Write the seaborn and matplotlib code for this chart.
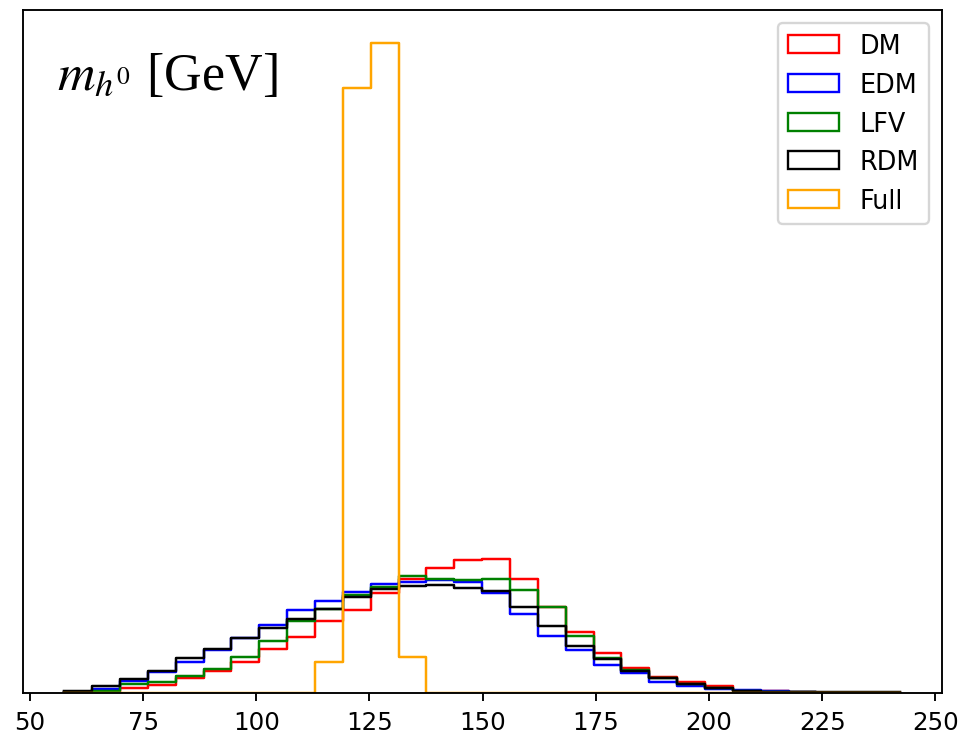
import numpy as np
import pandas as pd
import matplotlib
matplotlib.use("Agg")
import matplotlib.pyplot as plt
from matplotlib.patches import Patch
import seaborn as sns

# ---- data (bin heights, arbitrary units) ----
bin_min, bin_max, n_bins = 57.6, 242.2, 30

DM = [0.5, 1.3, 5, 8.3, 15, 22.3, 31.5, 44.3, 55.7, 72.3,
      83.5, 100.7, 114.3, 125.7, 133.2, 134.8, 114.7, 86.5, 60.7, 40.5,
      25, 16.5, 10.7, 7.3, 2.0, 2.5, 0.5, 0.3, 0.2, 0.0]
EDM = [1, 4, 12, 21, 30.7, 43, 55, 68, 82.7, 92.3,
       101.3, 109.7, 111.2, 112.8, 111.5, 100.7, 79.5, 57.6, 42.8, 28,
       19.7, 11.3, 7.3, 4, 3.3, 2.5, 0.5, 0.3, 0.2, 0.0]
LFV = [0.5, 2, 9, 11.5, 17, 24, 36.5, 52, 72.5, 84.5,
       97.8, 106.3, 117.3, 114.7, 112.8, 114.7, 103.5, 86, 57.3, 34.7,
       23.3, 14.7, 9, 5.3, 2.0, 1.0, 0.5, 0.3, 0.2, 0.0]
RDM = [2, 6.7, 14.5, 21.7, 34.7, 44.5, 55.5, 65.5, 74, 84.7,
       96.7, 104.6, 107.3, 108, 105.2, 102, 86.6, 66.7, 47.3, 33.6,
       22.3, 15, 9, 4.7, 2.3, 1.0, 1.0, 0.7, 0.5, 0.5]
Full = [0, 0, 0, 0, 0, 0, 0, 0, 0, 31,
        606, 652, 36.5, 0, 0, 0, 0, 0, 0, 0,
        0, 0, 0, 0, 0, 0, 0, 0, 0, 0]

series_names = ["DM", "EDM", "LFV", "RDM", "Full"]
series_values = [DM, EDM, LFV, RDM, Full]
series_colors = ["red", "blue", "green", "black", "orange"]

x_ticks = [50, 75, 100, 125, 150, 175, 200, 225, 250]
title_text = r"$m_{h^0}$ [GeV]"

# ---- build long table ----
edges = [float(e) for e in np.linspace(bin_min, bin_max, n_bins + 1)]
centers = [0.5 * (a + b) for a, b in zip(edges[:-1], edges[1:])]
rows = []
for name, vals in zip(series_names, series_values):
    for c, v in zip(centers, vals):
        rows.append({"mass": c, "count": v, "model": name})
df = pd.DataFrame(rows)

# ---- figure ----
plt.rcParams["mathtext.fontset"] = "stix"
fig = plt.figure(figsize=(963 / 170, 739 / 170), dpi=170)
ax = fig.add_axes([0.0234, 0.0609, 0.9546, 0.9241])

for name, color in zip(series_names, series_colors):
    sub = df[df["model"] == name]
    sns.histplot(data=sub, x="mass", weights="count", bins=edges,
                 element="step", fill=False, color=color, linewidth=1.05,
                 ax=ax)

ax.set_xticks(x_ticks)
ax.set_xticklabels([str(t) for t in x_ticks])
ax.tick_params(axis="x", labelsize=10.4)
ax.set_yticks([])
ax.set_xlabel("")
ax.set_ylabel("")

handles = [Patch(facecolor="none", edgecolor=c, linewidth=1.0)
           for c in series_colors]
ax.legend(handles, series_names, loc="upper right", fontsize=10.8)

ax.text(0.0375, 0.885, title_text, transform=ax.transAxes,
        fontsize=22, family="Liberation Serif", va="baseline", ha="left")

fig.savefig("out.png", dpi=170)
